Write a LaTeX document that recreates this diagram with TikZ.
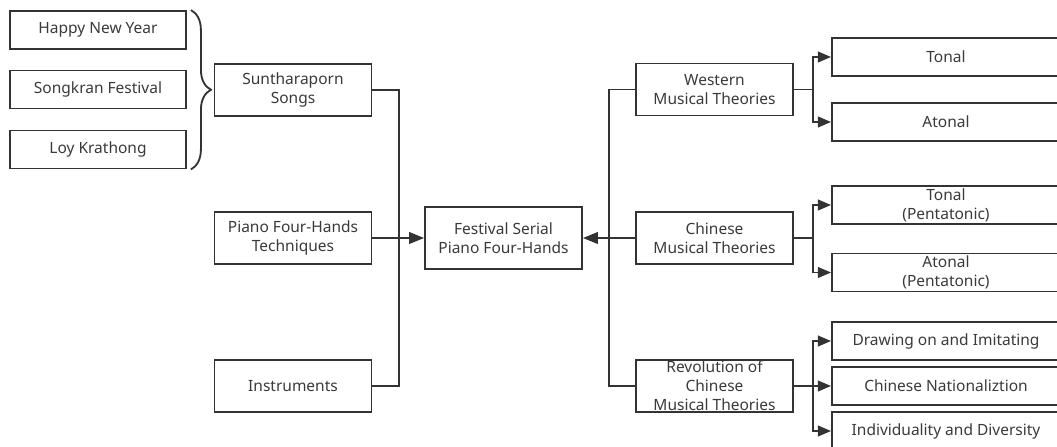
\documentclass[tikz,border=0pt]{standalone}
\usepackage{fontspec}
\setmainfont{Noto Sans}
\usepackage{tikz}
\usetikzlibrary{arrows.meta,positioning,calc,decorations.pathreplacing}
\definecolor{mline}{HTML}{333333}
\definecolor{mtext}{HTML}{3A3A3A}

\begin{document}
\begin{tikzpicture}[
      x=0.6pt, y=-0.6pt,
      font=\fontsize{9.3}{11.4}\selectfont,
      >=Triangle,
      box/.style={draw=mline, line width=1.1pt, fill=white, align=center, text=mtext,
                  inner sep=0pt, minimum height=31.2pt, minimum width=94.2pt},
      leafbox/.style={box, minimum height=22.8pt, minimum width=105.6pt},
      outbox/.style={box, minimum height=22.8pt, minimum width=136.8pt},
      line/.style={draw=mline, line width=1.1pt},
      arr/.style={line, -{Triangle[length=8pt, width=6.5pt]}},
      bigarr/.style={line, -{Triangle[length=9pt, width=7pt]}},
      brc/.style={line, decorate, decoration={brace, amplitude=12pt, aspect=0.5}}
    ]
    \clip (0,0) rectangle (1057,447);
    \node[leafbox] (hny) at (98,30) {Happy New Year};
    \node[leafbox] (skf) at (98,89.5) {Songkran Festival};
    \node[leafbox] (loy) at (98,149.5) {Loy Krathong};
    \draw[brc] ($(hny.north east)+(4,0)$) -- ($(loy.south east)+(4,0)$);

    \node[box] (sun) at (293,90) {Suntharaporn\\Songs};
    \node[box] (pft) at (293,238) {Piano Four-Hands\\Techniques};
    \node[box] (ins) at (293,386) {Instruments};
    \node[box, minimum height=37.2pt] (fest) at (503.5,238) {Festival Serial\\Piano Four-Hands};
    \coordinate (jl) at (399,238);
    \draw[line] (sun.east) -| (jl) |- (ins.east);
    \draw[line] (pft.east) -- (jl);
    \draw[bigarr] (jl) -- (fest.west);

    \node[box] (wmt) at (714.5,89.5) {Western\\Musical Theories};
    \node[box] (cmt) at (714.5,238) {Chinese\\Musical Theories};
    \node[box] (rev) at (714.5,386) {Revolution of\\Chinese\\Musical Theories};
    \coordinate (jr) at (609,238);
    \draw[line] (wmt.west) -| (jr) |- (rev.west);
    \draw[line] (cmt.west) -- (jr);
    \draw[bigarr] (jr) -- (fest.east);

    \node[outbox] (ton) at (946,57) {Tonal};
    \node[outbox] (aton) at (946,122) {Atonal};
    \node[outbox] (tonp) at (946,205) {Tonal\\(Pentatonic)};
    \node[outbox] (atonp) at (946,272.5) {Atonal\\(Pentatonic)};
    \node[outbox] (draw) at (946,341) {Drawing on and Imitating};
    \node[outbox] (nat) at (946,386) {Chinese Nationaliztion};
    \node[outbox] (ind) at (946,431) {Individuality and Diversity};
    \draw[arr] (wmt.east) -- ++(19,0) |- (ton.west);
    \draw[arr] (wmt.east) -- ++(19,0) |- (aton.west);
    \draw[arr] (cmt.east) -- ++(19,0) |- (tonp.west);
    \draw[arr] (cmt.east) -- ++(19,0) |- (atonp.west);
    \draw[arr] (rev.east) -- ++(19,0) |- (draw.west);
    \draw[arr] (rev.east) -- (nat.west);
    \draw[arr] (rev.east) -- ++(19,0) |- (ind.west);
  \end{tikzpicture}
\end{document}
